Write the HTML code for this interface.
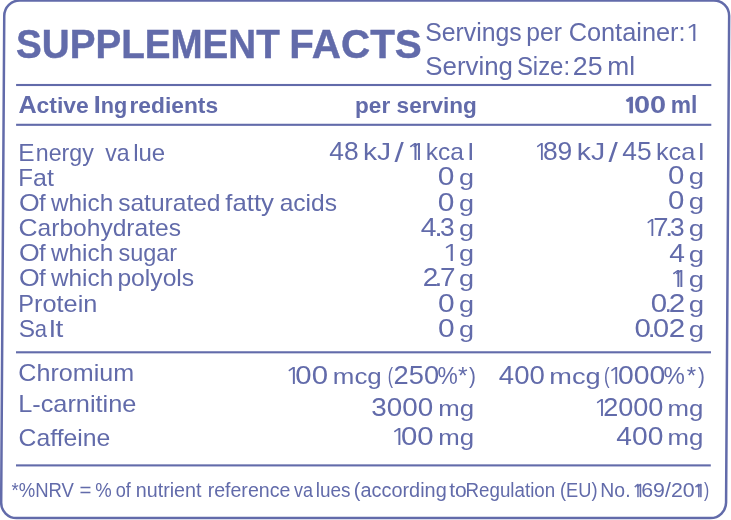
<!DOCTYPE html>
<html lang="en"><head><meta charset="utf-8"><title>Supplement Facts</title>
<style>html,body{margin:0;padding:0;background:#fff}body{width:731px;height:520px;overflow:hidden}svg{display:block;will-change:transform}text{font-family:"Liberation Sans",sans-serif;fill:#626baa}.o{font-family:NanumGothic,"Liberation Sans",sans-serif}</style></head><body>
<svg width="731" height="520" viewBox="0 0 731 520">
<rect width="731" height="520" fill="#fff"/>
<g transform="matrix(1 0 -0.0063 1 0 0)"><rect x="4.35" y="0.45" width="724.9" height="517.65" rx="15.5" ry="15.5" fill="none" stroke="#626baa" stroke-width="2.5"/></g>
<rect x="16.1" y="83.95" width="695.2" height="2.1" fill="#626baa"/>
<rect x="16.1" y="123.75" width="695.2" height="2.1" fill="#626baa"/>
<rect x="16.0" y="351.25" width="695.0" height="2.1" fill="#626baa"/>
<rect x="16.0" y="464.35" width="694.8" height="2.1" fill="#626baa"/>
<text><tspan id="t0" x="16.05" y="57.80" font-size="41.5" font-weight="bold" stroke="#626baa" stroke-width="0.45" textLength="263.78" lengthAdjust="spacingAndGlyphs">SUPPLEMENT</tspan> <tspan id="t1" x="289.35" y="57.80" font-size="41.5" font-weight="bold" stroke="#626baa" stroke-width="0.45" textLength="132.42" lengthAdjust="spacingAndGlyphs">FACTS</tspan></text>
<text><tspan id="t2" x="425.25" y="41.20" font-size="25" textLength="96.50" lengthAdjust="spacingAndGlyphs">Servings</tspan> <tspan id="t3" x="526.35" y="41.20" font-size="25" textLength="35.61" lengthAdjust="spacingAndGlyphs">per</tspan> <tspan id="t4" x="568.65" y="41.20" font-size="25" textLength="116.91" lengthAdjust="spacingAndGlyphs">Container:</tspan> <tspan id="t5" class="o" x="684.15" y="41.10" font-size="23.33" textLength="18.22" lengthAdjust="spacingAndGlyphs">1</tspan></text>
<text><tspan id="t6" x="425.35" y="75.30" font-size="25" textLength="87.62" lengthAdjust="spacingAndGlyphs">Serving</tspan> <tspan id="t7" x="516.90" y="75.30" font-size="25" textLength="53.18" lengthAdjust="spacingAndGlyphs">Size:</tspan> <tspan id="t8" x="572.80" y="75.30" font-size="25" textLength="29.72" lengthAdjust="spacingAndGlyphs">25</tspan> <tspan id="t9" x="607.25" y="75.30" font-size="25" textLength="27.83" lengthAdjust="spacingAndGlyphs">ml</tspan></text>
<text><tspan id="t10" x="18.40" y="113.00" font-size="23.3" font-weight="bold" textLength="18.19" lengthAdjust="spacingAndGlyphs">A</tspan><tspan id="t11" x="36.55" y="113.00" font-size="21.2" font-weight="bold" textLength="52.17" lengthAdjust="spacingAndGlyphs">ctive</tspan> <tspan id="t12" x="93.85" y="113.00" font-size="23.3" font-weight="bold" textLength="6.98" lengthAdjust="spacingAndGlyphs">I</tspan><tspan id="t13" x="100.70" y="113.00" font-size="21.2" font-weight="bold" textLength="26.46" lengthAdjust="spacingAndGlyphs">ng</tspan><tspan id="t14" x="129.50" y="113.00" font-size="21.2" font-weight="bold" textLength="88.62" lengthAdjust="spacingAndGlyphs">redients</tspan></text>
<text><tspan id="t15" x="355.10" y="113.00" font-size="21.2" font-weight="bold" textLength="35.10" lengthAdjust="spacingAndGlyphs">per</tspan> <tspan id="t16" x="396.60" y="113.00" font-size="21.2" font-weight="bold" textLength="80.28" lengthAdjust="spacingAndGlyphs">serving</tspan></text>
<text><tspan id="t17" class="o" x="623.00" y="113.00" font-size="21.74" font-weight="bold" stroke="#626baa" stroke-width="0.7" textLength="15.38" lengthAdjust="spacingAndGlyphs">1</tspan><tspan id="t18" x="634.05" y="113.00" font-size="23.3" font-weight="bold" textLength="32.13" lengthAdjust="spacingAndGlyphs">00</tspan> <tspan id="t19" x="670.70" y="113.00" font-size="23.3" font-weight="bold" textLength="26.62" lengthAdjust="spacingAndGlyphs">ml</tspan></text>
<text><tspan id="t20" x="18.35" y="160.70" font-size="24" textLength="16.33" lengthAdjust="spacingAndGlyphs">E</tspan><tspan id="t21" x="35.80" y="160.70" font-size="24" textLength="57.99" lengthAdjust="spacingAndGlyphs">nergy</tspan> <tspan id="t22" x="105.35" y="160.70" font-size="24" textLength="24.36" lengthAdjust="spacingAndGlyphs">va</tspan><tspan id="t23" x="133.20" y="160.70" font-size="24" textLength="32.03" lengthAdjust="spacingAndGlyphs">lue</tspan></text>
<text><tspan id="t24" x="329.25" y="159.60" font-size="25.2" textLength="29.37" lengthAdjust="spacingAndGlyphs">48</tspan> <tspan id="t25" x="363.00" y="159.60" font-size="24" textLength="28.10" lengthAdjust="spacingAndGlyphs">kJ</tspan> <tspan id="t26" x="394.50" y="162.00" font-size="27" textLength="9.27" lengthAdjust="spacingAndGlyphs">/</tspan> <tspan id="t27" class="o" x="405.85" y="159.60" font-size="23.51" textLength="17.64" lengthAdjust="spacingAndGlyphs">1</tspan><tspan id="t28" class="o" x="409.35" y="159.60" font-size="23.51" textLength="17.64" lengthAdjust="spacingAndGlyphs">1</tspan> <tspan id="t29" x="425.85" y="159.60" font-size="24" textLength="38.14" lengthAdjust="spacingAndGlyphs">kca</tspan><tspan id="t30" x="467.75" y="159.60" font-size="24" textLength="6.04" lengthAdjust="spacingAndGlyphs">l</tspan></text>
<text><tspan id="t31" class="o" x="533.25" y="159.60" font-size="23.51" textLength="15.62" lengthAdjust="spacingAndGlyphs">1</tspan><tspan id="t32" x="542.90" y="159.60" font-size="25.2" textLength="29.39" lengthAdjust="spacingAndGlyphs">89</tspan> <tspan id="t33" x="576.80" y="159.60" font-size="24" textLength="28.39" lengthAdjust="spacingAndGlyphs">kJ</tspan> <tspan id="t34" x="608.40" y="162.00" font-size="27" textLength="9.33" lengthAdjust="spacingAndGlyphs">/</tspan> <tspan id="t35" x="622.35" y="159.60" font-size="25.2" textLength="29.37" lengthAdjust="spacingAndGlyphs">45</tspan> <tspan id="t36" x="655.95" y="159.60" font-size="24" textLength="39.45" lengthAdjust="spacingAndGlyphs">kca</tspan><tspan id="t37" x="698.25" y="159.60" font-size="24" textLength="6.04" lengthAdjust="spacingAndGlyphs">l</tspan></text>
<text><tspan id="t38" x="18.35" y="185.60" font-size="24" textLength="14.67" lengthAdjust="spacingAndGlyphs">F</tspan><tspan id="t39" x="33.00" y="185.60" font-size="24" textLength="20.82" lengthAdjust="spacingAndGlyphs">at</tspan></text>
<text><tspan id="t40" x="437.75" y="184.90" font-size="25.2" textLength="16.65" lengthAdjust="spacingAndGlyphs">0</tspan> <tspan id="t41" x="458.90" y="184.90" font-size="22.6" textLength="15.03" lengthAdjust="spacingAndGlyphs">g</tspan></text>
<text><tspan id="t42" x="668.05" y="184.10" font-size="25.2" textLength="16.35" lengthAdjust="spacingAndGlyphs">0</tspan> <tspan id="t43" x="688.85" y="184.10" font-size="22.6" textLength="15.35" lengthAdjust="spacingAndGlyphs">g</tspan></text>
<text><tspan id="t44" x="18.90" y="210.90" font-size="24" textLength="20.69" lengthAdjust="spacingAndGlyphs">O</tspan><tspan id="t45" x="39.00" y="210.90" font-size="24" textLength="6.68" lengthAdjust="spacingAndGlyphs">f</tspan> <tspan id="t46" x="51.05" y="210.90" font-size="24" textLength="62.13" lengthAdjust="spacingAndGlyphs">which</tspan> <tspan id="t47" x="118.15" y="210.90" font-size="24" textLength="102.39" lengthAdjust="spacingAndGlyphs">saturated</tspan> <tspan id="t48" x="225.30" y="210.90" font-size="24" textLength="48.65" lengthAdjust="spacingAndGlyphs">fatty</tspan> <tspan id="t49" x="279.70" y="210.90" font-size="24" textLength="57.33" lengthAdjust="spacingAndGlyphs">acids</tspan></text>
<text><tspan id="t50" x="437.75" y="210.60" font-size="25.2" textLength="16.65" lengthAdjust="spacingAndGlyphs">0</tspan> <tspan id="t51" x="458.90" y="210.60" font-size="22.6" textLength="15.03" lengthAdjust="spacingAndGlyphs">g</tspan></text>
<text><tspan id="t52" x="668.05" y="208.80" font-size="25.2" textLength="16.35" lengthAdjust="spacingAndGlyphs">0</tspan> <tspan id="t53" x="688.85" y="208.80" font-size="22.6" textLength="15.35" lengthAdjust="spacingAndGlyphs">g</tspan></text>
<text><tspan id="t54" x="18.50" y="236.00" font-size="24" textLength="19.08" lengthAdjust="spacingAndGlyphs">C</tspan><tspan id="t55" x="37.60" y="236.00" font-size="24" textLength="143.39" lengthAdjust="spacingAndGlyphs">arbohydrates</tspan></text>
<text><tspan id="t56" x="420.85" y="235.80" font-size="25.2" textLength="15.70" lengthAdjust="spacingAndGlyphs">4</tspan><tspan id="t57" x="434.15" y="235.80" font-size="25.2" textLength="8.58" lengthAdjust="spacingAndGlyphs">.</tspan><tspan id="t58" x="440.00" y="235.80" font-size="25.2" textLength="14.62" lengthAdjust="spacingAndGlyphs">3</tspan> <tspan id="t59" x="458.90" y="235.80" font-size="22.6" textLength="15.03" lengthAdjust="spacingAndGlyphs">g</tspan></text>
<text><tspan id="t60" class="o" x="643.85" y="235.50" font-size="23.51" textLength="15.63" lengthAdjust="spacingAndGlyphs">1</tspan><tspan id="t61" x="653.30" y="235.50" font-size="25.2" textLength="15.27" lengthAdjust="spacingAndGlyphs">7</tspan><tspan id="t62" x="665.35" y="235.50" font-size="25.2" textLength="7.78" lengthAdjust="spacingAndGlyphs">.</tspan><tspan id="t63" x="670.05" y="235.50" font-size="25.2" textLength="14.61" lengthAdjust="spacingAndGlyphs">3</tspan> <tspan id="t64" x="688.85" y="235.50" font-size="22.6" textLength="15.35" lengthAdjust="spacingAndGlyphs">g</tspan></text>
<text><tspan id="t65" x="18.90" y="261.10" font-size="24" textLength="20.69" lengthAdjust="spacingAndGlyphs">O</tspan><tspan id="t66" x="39.00" y="261.10" font-size="24" textLength="6.68" lengthAdjust="spacingAndGlyphs">f</tspan> <tspan id="t67" x="51.05" y="261.10" font-size="24" textLength="62.13" lengthAdjust="spacingAndGlyphs">which</tspan> <tspan id="t68" x="118.40" y="261.10" font-size="24" textLength="58.77" lengthAdjust="spacingAndGlyphs">sugar</tspan></text>
<text><tspan id="t69" class="o" x="441.30" y="260.70" font-size="23.51" textLength="19.01" lengthAdjust="spacingAndGlyphs">1</tspan> <tspan id="t70" x="458.90" y="260.70" font-size="22.6" textLength="15.03" lengthAdjust="spacingAndGlyphs">g</tspan></text>
<text><tspan id="t71" x="669.25" y="261.80" font-size="25.2" textLength="15.67" lengthAdjust="spacingAndGlyphs">4</tspan> <tspan id="t72" x="688.85" y="261.80" font-size="22.6" textLength="15.35" lengthAdjust="spacingAndGlyphs">g</tspan></text>
<text><tspan id="t73" x="18.90" y="286.20" font-size="24" textLength="20.69" lengthAdjust="spacingAndGlyphs">O</tspan><tspan id="t74" x="39.00" y="286.20" font-size="24" textLength="6.68" lengthAdjust="spacingAndGlyphs">f</tspan> <tspan id="t75" x="51.05" y="286.20" font-size="24" textLength="62.13" lengthAdjust="spacingAndGlyphs">which</tspan> <tspan id="t76" x="117.40" y="286.20" font-size="24" textLength="76.79" lengthAdjust="spacingAndGlyphs">polyols</tspan></text>
<text><tspan id="t77" x="422.80" y="286.40" font-size="25.2" textLength="15.54" lengthAdjust="spacingAndGlyphs">2</tspan><tspan id="t78" x="434.55" y="286.40" font-size="25.2" textLength="7.87" lengthAdjust="spacingAndGlyphs">.</tspan><tspan id="t79" x="440.00" y="286.40" font-size="25.2" textLength="15.55" lengthAdjust="spacingAndGlyphs">7</tspan> <tspan id="t80" x="458.90" y="286.40" font-size="22.6" textLength="15.03" lengthAdjust="spacingAndGlyphs">g</tspan></text>
<text><tspan id="t81" class="o" x="669.00" y="286.80" font-size="23.51" textLength="16.97" lengthAdjust="spacingAndGlyphs">1</tspan><tspan id="t82" class="o" x="672.00" y="286.80" font-size="23.51" textLength="16.97" lengthAdjust="spacingAndGlyphs">1</tspan> <tspan id="t83" x="688.85" y="286.80" font-size="22.6" textLength="15.35" lengthAdjust="spacingAndGlyphs">g</tspan></text>
<text><tspan id="t84" x="18.15" y="311.90" font-size="24" textLength="15.71" lengthAdjust="spacingAndGlyphs">P</tspan><tspan id="t85" x="34.10" y="311.90" font-size="24" textLength="63.22" lengthAdjust="spacingAndGlyphs">rotein</tspan></text>
<text><tspan id="t86" x="437.95" y="311.70" font-size="25.2" textLength="16.65" lengthAdjust="spacingAndGlyphs">0</tspan> <tspan id="t87" x="458.90" y="311.70" font-size="22.6" textLength="15.03" lengthAdjust="spacingAndGlyphs">g</tspan></text>
<text><tspan id="t88" x="650.75" y="311.50" font-size="25.2" textLength="16.35" lengthAdjust="spacingAndGlyphs">0</tspan><tspan id="t89" x="664.75" y="311.50" font-size="25.2" textLength="7.00" lengthAdjust="spacingAndGlyphs">.</tspan><tspan id="t90" x="668.70" y="311.50" font-size="25.2" textLength="16.46" lengthAdjust="spacingAndGlyphs">2</tspan> <tspan id="t91" x="688.85" y="311.50" font-size="22.6" textLength="15.35" lengthAdjust="spacingAndGlyphs">g</tspan></text>
<text><tspan id="t92" x="18.75" y="336.90" font-size="24" textLength="16.32" lengthAdjust="spacingAndGlyphs">S</tspan><tspan id="t93" x="34.85" y="336.90" font-size="24" textLength="12.26" lengthAdjust="spacingAndGlyphs">a</tspan><tspan id="t94" x="49.15" y="336.90" font-size="24" textLength="14.05" lengthAdjust="spacingAndGlyphs">lt</tspan></text>
<text><tspan id="t95" x="437.95" y="336.70" font-size="25.2" textLength="16.65" lengthAdjust="spacingAndGlyphs">0</tspan> <tspan id="t96" x="458.90" y="336.70" font-size="22.6" textLength="15.03" lengthAdjust="spacingAndGlyphs">g</tspan></text>
<text><tspan id="t97" x="634.55" y="336.70" font-size="25.2" textLength="16.35" lengthAdjust="spacingAndGlyphs">0</tspan><tspan id="t98" x="647.85" y="336.70" font-size="25.2" textLength="7.78" lengthAdjust="spacingAndGlyphs">.</tspan><tspan id="t99" x="652.90" y="336.70" font-size="25.2" textLength="16.11" lengthAdjust="spacingAndGlyphs">0</tspan><tspan id="t100" x="668.70" y="336.70" font-size="25.2" textLength="16.46" lengthAdjust="spacingAndGlyphs">2</tspan> <tspan id="t101" x="688.85" y="336.70" font-size="22.6" textLength="15.35" lengthAdjust="spacingAndGlyphs">g</tspan></text>
<text><tspan id="t102" x="18.35" y="380.80" font-size="24" textLength="115.82" lengthAdjust="spacingAndGlyphs">Chromium</tspan></text>
<text><tspan id="t103" class="o" x="284.60" y="384.00" font-size="23.51" textLength="16.98" lengthAdjust="spacingAndGlyphs">1</tspan><tspan id="t104" x="295.35" y="384.00" font-size="25.2" textLength="32.66" lengthAdjust="spacingAndGlyphs">00</tspan> <tspan id="t105" x="332.85" y="384.00" font-size="22.6" textLength="48.90" lengthAdjust="spacingAndGlyphs">mcg</tspan> <tspan id="t106" x="387.80" y="382.90" font-size="21.7" textLength="5.29" lengthAdjust="spacingAndGlyphs">(</tspan><tspan id="t107" x="393.60" y="384.00" font-size="25.2" textLength="45.49" lengthAdjust="spacingAndGlyphs">250</tspan><tspan id="t108" x="437.60" y="384.00" font-size="24" textLength="20.25" lengthAdjust="spacingAndGlyphs">%</tspan><tspan id="t109" x="458.00" y="384.00" font-size="24" textLength="9.64" lengthAdjust="spacingAndGlyphs">*</tspan><tspan id="t110" x="469.10" y="382.90" font-size="21.7" textLength="6.91" lengthAdjust="spacingAndGlyphs">)</tspan></text>
<text><tspan id="t111" x="498.85" y="384.00" font-size="25.2" textLength="45.95" lengthAdjust="spacingAndGlyphs">400</tspan> <tspan id="t112" x="549.30" y="384.00" font-size="22.6" textLength="51.33" lengthAdjust="spacingAndGlyphs">mcg</tspan> <tspan id="t113" x="603.90" y="382.90" font-size="21.7" textLength="5.60" lengthAdjust="spacingAndGlyphs">(</tspan><tspan id="t114" class="o" x="607.15" y="384.00" font-size="23.51" textLength="16.30" lengthAdjust="spacingAndGlyphs">1</tspan><tspan id="t115" x="617.90" y="384.00" font-size="25.2" textLength="47.29" lengthAdjust="spacingAndGlyphs">000</tspan><tspan id="t116" x="663.60" y="384.00" font-size="24" textLength="21.35" lengthAdjust="spacingAndGlyphs">%</tspan><tspan id="t117" x="686.70" y="384.00" font-size="24" textLength="9.35" lengthAdjust="spacingAndGlyphs">*</tspan><tspan id="t118" x="698.10" y="382.90" font-size="21.7" textLength="6.91" lengthAdjust="spacingAndGlyphs">)</tspan></text>
<text><tspan id="t119" x="18.15" y="412.40" font-size="24" textLength="118.25" lengthAdjust="spacingAndGlyphs">L-carnitine</tspan></text>
<text><tspan id="t120" x="371.35" y="416.00" font-size="25.2" textLength="61.78" lengthAdjust="spacingAndGlyphs">3000</tspan> <tspan id="t121" x="438.35" y="416.00" font-size="22.6" textLength="35.84" lengthAdjust="spacingAndGlyphs">mg</tspan></text>
<text><tspan id="t122" class="o" x="592.95" y="416.00" font-size="23.51" textLength="16.30" lengthAdjust="spacingAndGlyphs">1</tspan><tspan id="t123" x="603.15" y="416.00" font-size="25.2" textLength="60.22" lengthAdjust="spacingAndGlyphs">2000</tspan> <tspan id="t124" x="667.45" y="416.00" font-size="22.6" textLength="35.84" lengthAdjust="spacingAndGlyphs">mg</tspan></text>
<text><tspan id="t125" x="18.60" y="446.00" font-size="24" textLength="91.79" lengthAdjust="spacingAndGlyphs">Caffeine</tspan></text>
<text><tspan id="t126" class="o" x="389.90" y="445.00" font-size="23.51" textLength="17.00" lengthAdjust="spacingAndGlyphs">1</tspan><tspan id="t127" x="400.90" y="445.00" font-size="25.2" textLength="32.66" lengthAdjust="spacingAndGlyphs">00</tspan> <tspan id="t128" x="438.35" y="445.00" font-size="22.6" textLength="35.84" lengthAdjust="spacingAndGlyphs">mg</tspan></text>
<text><tspan id="t129" x="616.35" y="445.00" font-size="25.2" textLength="46.99" lengthAdjust="spacingAndGlyphs">400</tspan> <tspan id="t130" x="667.45" y="445.00" font-size="22.6" textLength="35.84" lengthAdjust="spacingAndGlyphs">mg</tspan></text>
<text><tspan id="t131" x="11.55" y="496.90" font-size="19.4" textLength="62.36" lengthAdjust="spacingAndGlyphs">*%NRV</tspan> <tspan id="t132" x="79.60" y="496.90" font-size="19.4" textLength="11.92" lengthAdjust="spacingAndGlyphs">=</tspan> <tspan id="t133" x="95.35" y="496.90" font-size="19.4" textLength="16.45" lengthAdjust="spacingAndGlyphs">%</tspan> <tspan id="t134" x="115.65" y="496.90" font-size="19.4" textLength="15.11" lengthAdjust="spacingAndGlyphs">of</tspan> <tspan id="t135" x="135.75" y="496.90" font-size="19.4" textLength="65.71" lengthAdjust="spacingAndGlyphs">nutrient</tspan> <tspan id="t136" x="207.65" y="496.90" font-size="19.4" textLength="82.69" lengthAdjust="spacingAndGlyphs">reference</tspan> <tspan id="t137" x="294.05" y="496.90" font-size="19.4" textLength="18.97" lengthAdjust="spacingAndGlyphs">va</tspan><tspan id="t138" x="315.75" y="496.90" font-size="19.4" textLength="34.78" lengthAdjust="spacingAndGlyphs">lues</tspan> <tspan id="t139" x="353.85" y="496.90" font-size="19.4" textLength="92.86" lengthAdjust="spacingAndGlyphs">(according</tspan> <tspan id="t140" x="449.25" y="496.90" font-size="19.4" textLength="17.52" lengthAdjust="spacingAndGlyphs">to</tspan> <tspan id="t141" x="465.55" y="496.90" font-size="19.4" textLength="89.62" lengthAdjust="spacingAndGlyphs">Regulation</tspan> <tspan id="t142" x="560.05" y="496.90" font-size="19.4" textLength="37.47" lengthAdjust="spacingAndGlyphs">(EU)</tspan> <tspan id="t143" x="600.35" y="496.90" font-size="19.4" textLength="30.19" lengthAdjust="spacingAndGlyphs">No.</tspan> <tspan id="t144" class="o" x="632.30" y="496.90" font-size="18.1" stroke="#626baa" stroke-width="0.3" textLength="10.37" lengthAdjust="spacingAndGlyphs">1</tspan><tspan id="t145" class="o" x="634.80" y="496.90" font-size="18.1" stroke="#626baa" stroke-width="0.3" textLength="10.37" lengthAdjust="spacingAndGlyphs">1</tspan><tspan id="t146" x="641.20" y="496.90" font-size="19.4" textLength="53.46" lengthAdjust="spacingAndGlyphs">69/20</tspan><tspan id="t147" class="o" x="692.65" y="496.90" font-size="18.1" stroke="#626baa" stroke-width="0.3" textLength="11.02" lengthAdjust="spacingAndGlyphs">1</tspan><tspan id="t148" class="o" x="694.65" y="496.90" font-size="18.1" stroke="#626baa" stroke-width="0.3" textLength="11.02" lengthAdjust="spacingAndGlyphs">1</tspan><tspan id="t149" x="704.05" y="496.90" font-size="19.4" textLength="5.19" lengthAdjust="spacingAndGlyphs">)</tspan></text>
</svg></body></html>
